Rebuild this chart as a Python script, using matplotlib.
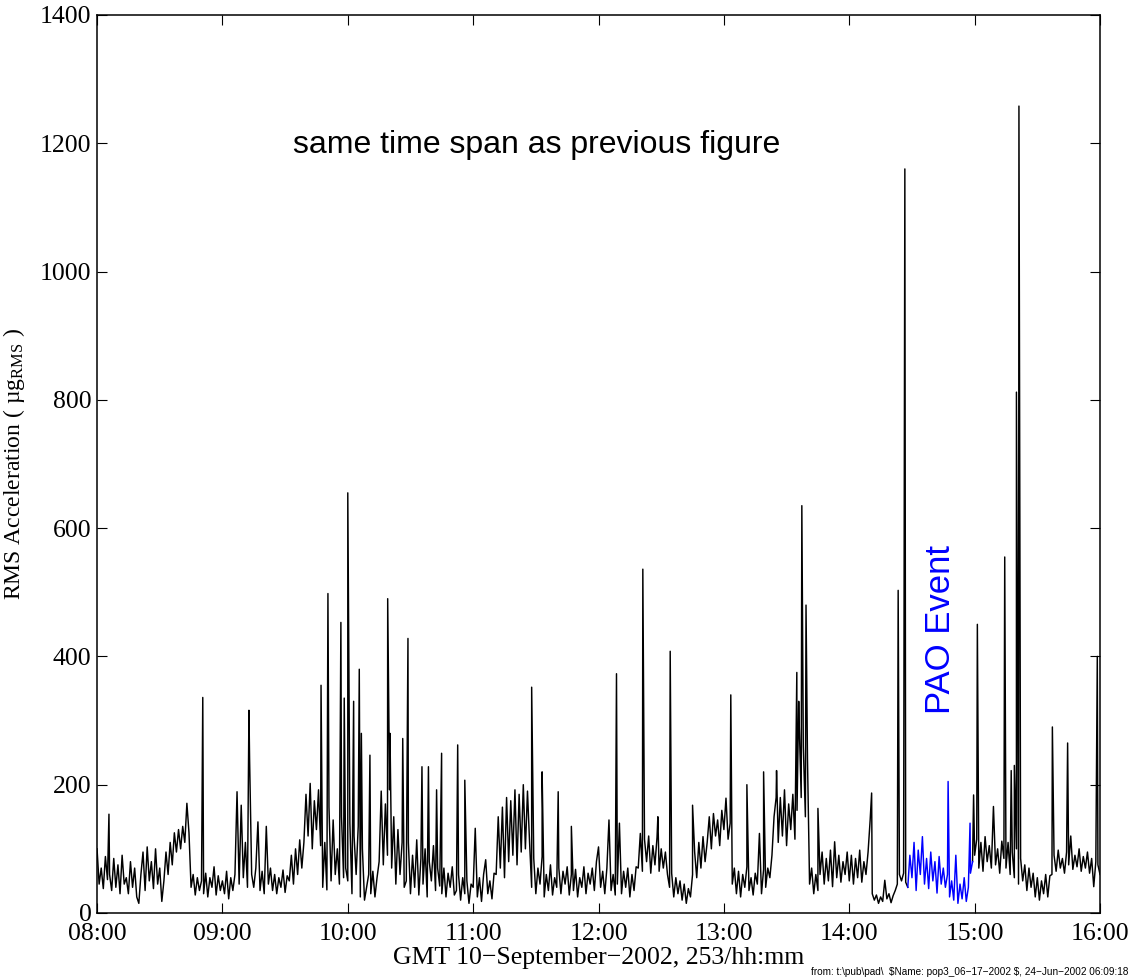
import numpy as np
import matplotlib
matplotlib.use("Agg")
import matplotlib.pyplot as plt

plt.rcParams['font.family'] = ['Liberation Serif', 'DejaVu Serif']
plt.rcParams['mathtext.fontset'] = 'custom'
plt.rcParams['mathtext.rm'] = 'Liberation Serif'
plt.rcParams['mathtext.it'] = 'Liberation Serif:italic'

# RMS acceleration, one value per minute after 08:00 GMT (ug_RMS)
rms_08 = [100, 45, 70, 38, 88, 52, 60, 35, 85, 40, 75, 30, 90, 45,
          55, 30, 80, 40, 70, 25, 15, 60, 95, 35, 103, 50, 80, 38, 100, 45,
          70, 18, 50, 95, 60, 110, 75, 125, 95, 130, 100, 135, 110, 171,
          125, 40, 60, 28, 55, 35, 50, 30, 62, 25, 55, 40, 72, 28, 58, 35]
rms_09 = [50, 30, 65, 22, 55, 35, 60, 189, 45, 168, 55, 110, 40, 241, 60,
          40, 70, 142, 35, 65, 30, 135, 45, 70, 35, 60, 30, 55, 40, 67, 32,
          58, 50, 90, 45, 100, 60, 114, 70, 110, 185, 120, 202, 100, 175,
          130, 192, 105, 40, 110, 36, 165, 50, 145, 60, 100, 45, 150, 55, 70]
rms_10 = [50, 140, 30, 120, 60, 135, 25, 100, 20, 40, 60, 30, 65, 25, 55,
          80, 190, 75, 170, 90, 192, 70, 150, 45, 130, 60, 110, 40,
          50, 110, 30, 90, 40, 114, 28, 85, 45, 100, 25, 80, 50, 105, 35,
          70, 42, 30, 70, 25, 62, 40, 72, 28, 35, 60, 20, 55, 30, 50, 15, 45]
rms_11 = [40, 132, 25, 55, 18, 60, 83, 30, 50, 22, 62, 60, 150, 70, 165,
          55, 180, 80, 175, 90, 192, 75, 185, 95, 200, 100, 190, 110,
          40, 85, 30, 70, 45, 88, 25, 60, 35, 75, 28, 55, 40, 70, 30, 65,
          45, 72, 28, 60, 35, 68, 25, 55, 40, 72, 30, 62, 45, 70, 35, 80]
rms_12 = [103, 40, 65, 30, 70, 145, 35, 60, 28, 45, 140, 30, 65, 40, 70,
          25, 60, 35, 72, 70, 124, 65, 115, 80, 120, 62, 105, 75, 118, 65,
          100, 70, 95, 60, 40, 62, 25, 55, 30, 50, 20, 45, 15, 38, 25,
          60, 95, 55, 110, 70, 119, 80, 110, 150, 100, 155, 120, 145, 105, 160]
rms_13 = [130, 179, 115, 140, 45, 70, 30, 65, 25, 60, 40, 72, 35, 55, 28,
          62, 45, 124, 30, 68, 40, 70, 55, 90, 150, 180, 110, 180, 120, 192,
          105, 170, 130, 185, 115, 160, 300, 180, 260, 150, 240, 45, 70, 30,
          60, 35, 60, 95, 45, 85, 50, 98, 41, 111, 55, 90, 48, 80, 60, 95]
rms_14 = [50, 90, 45, 85, 55, 98, 48, 80, 60, 95, 145, 30, 20, 28, 15,
          25, 18, 51, 22, 30, 16, 27, 35, 45, 60, 50, 62, 48, 40, 90, 55,
          110, 35, 98, 60, 119, 45, 85, 38, 95, 50, 80, 31, 88, 45, 70, 40,
          60, 25, 50, 20, 90, 15, 45, 22, 55, 18, 40, 62, 80]
rms_15 = [90, 115, 70, 110, 65, 119, 80, 105, 70, 166, 75, 100, 62, 112, 85,
          70, 110, 60, 95, 55, 100, 45, 85, 50, 75, 35, 70, 40, 62, 25, 55,
          20, 50, 30, 60, 25, 58, 60, 90, 65, 98, 70, 85, 62, 95, 75, 120,
          68, 90, 72, 100, 65, 88, 70, 95, 62, 85, 41, 80, 75]
rms_end = 60

# short transients (minutes after 08:00, ug_RMS)
spike_min = [5.7, 50.6, 72.7, 107.2, 110.5, 116.7, 118.3, 120.0, 122.8, 125.5,
             126.5, 130.6, 139.1, 140.2, 146.3, 148.8, 155.5, 158.6, 162.5, 164.9,
             172.6, 176.0, 208.0, 213.0, 220.7, 227.0, 248.6, 261.2, 268.4, 274.3,
             285.0, 303.3, 311.0, 319.0, 325.2, 334.9, 335.8, 337.3, 339.3, 345.0,
             370.7, 383.4, 386.6, 407.3, 417.8, 419.5, 421.3, 429.0, 434.4, 437.5,
             439.0, 440.0, 441.2, 457.2, 464.5, 478.7]
spike_val = [154, 336, 316, 355, 498, 453, 335, 655, 330, 380,
             280, 246, 490, 280, 272, 428, 228, 228, 192, 249,
             262, 207, 352, 220, 189, 135, 373, 536, 150, 408,
             168, 340, 200, 220, 222, 375, 330, 635, 480, 163,
             187, 503, 1160, 205, 140, 184, 450, 166, 555, 222,
             230, 812, 1258, 290, 265, 400]

# PAO event window (minutes after 08:00)
pao_start, pao_end = 388, 419

hour_labels = ['08:00', '09:00', '10:00', '11:00', '12:00',
               '13:00', '14:00', '15:00', '16:00']
y_ticks = [0, 200, 400, 600, 800, 1000, 1200, 1400]

base = rms_08 + rms_09 + rms_10 + rms_11 + rms_12 + rms_13 + rms_14 + rms_15 + [rms_end]
t = np.concatenate([np.arange(len(base), dtype=float), spike_min])
v = np.concatenate([np.array(base, dtype=float), spike_val])
order = np.argsort(t, kind='stable')
t, v = t[order], v[order]
hours = 8 + t / 60.0

in_pao = (t >= pao_start) & (t <= pao_end)
black_v = v.copy()
black_v[(t > pao_start) & (t < pao_end)] = np.nan

fig = plt.figure(figsize=(11.31, 9.8), dpi=100)
ax = fig.add_axes([0.0858, 0.0684, 0.8868, 0.9163])

ax.plot(hours, black_v, color='black', lw=1.05)
ax.plot(hours[in_pao], v[in_pao], color='blue', lw=1.05)

ax.set_xlim(8, 16)
ax.set_ylim(0, 1400)
ax.set_xticks(np.arange(8, 17))
ax.set_xticklabels(hour_labels)
ax.set_yticks(y_ticks)
ax.tick_params(direction='in', length=7, width=0.8, top=True, right=True,
               labelsize=18.5)
ax.tick_params(axis='x', pad=7.5)
ax.tick_params(axis='y', pad=4)
for s in ax.spines.values():
    s.set_linewidth(1.1)

ax.set_xlabel('GMT 10\u2212September\u22122002, 253/hh:mm', fontsize=18.5, labelpad=1)
ax.set_ylabel('RMS Acceleration ( \u00b5$\\mathrm{g}_{\\mathrm{RMS}}$ )', fontsize=17, labelpad=9)

ax.text(0.1954, 0.855, 'same time span as previous figure', transform=ax.transAxes,
        fontsize=23, family='Liberation Sans', ha='left', va='center')
ax.text(0.8405, 0.316, 'PAO Event', transform=ax.transAxes, rotation=90,
        fontsize=25, family='Liberation Sans', color='blue', ha='center', va='center')

fig.text(0.998, 0.003,
         'from: t:\\pub\\pad\\  \\$Name: pop3_06\u221217\u22122002 \\$, 24\u2212Jun\u22122002 06:09:18',
         fontsize=7.2, family='Liberation Sans', ha='right', va='bottom')

fig.savefig('out.png', dpi=100)
